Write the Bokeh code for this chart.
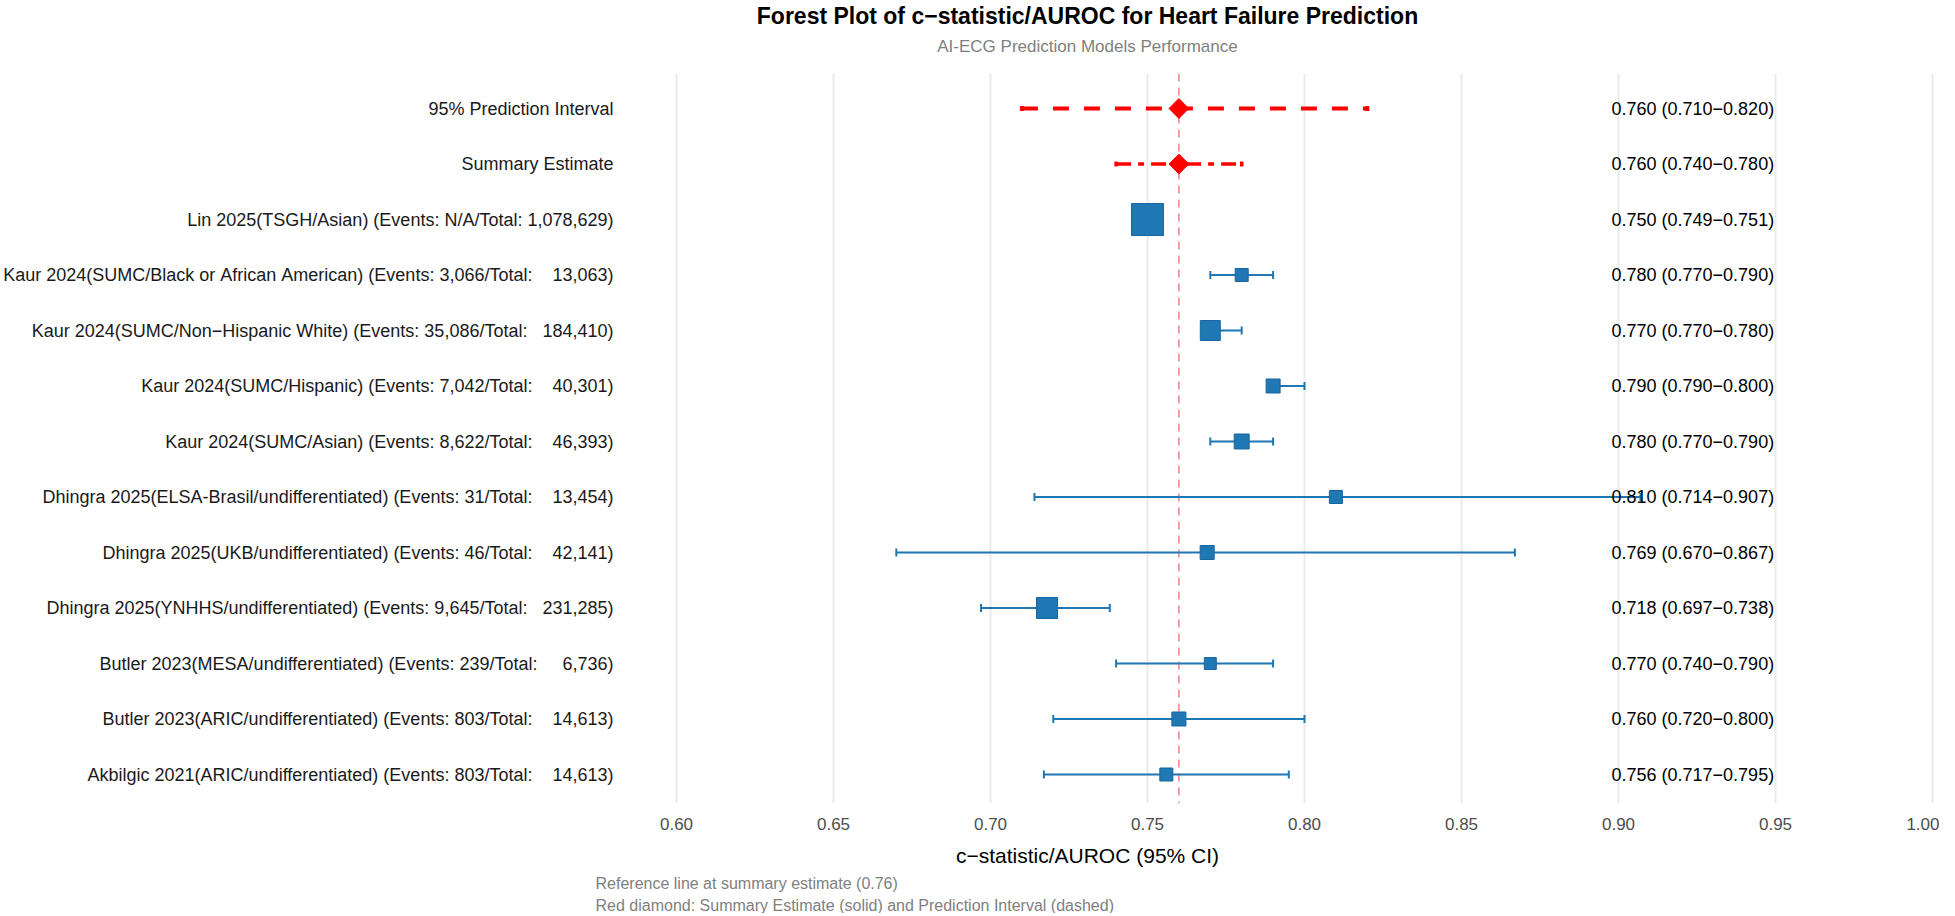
import numpy as np
from bokeh.plotting import figure
from bokeh.models import Range1d, FixedTicker, NumeralTickFormatter, Title, ColumnDataSource, Span
from bokeh.core.properties import value
from bokeh.embed import file_html
from bokeh.resources import INLINE

# ---------------- data ----------------
studies = [
    "Lin 2025(TSGH/Asian)",
    "Kaur 2024(SUMC/Black or African American)",
    "Kaur 2024(SUMC/Non\u2212Hispanic White)",
    "Kaur 2024(SUMC/Hispanic)",
    "Kaur 2024(SUMC/Asian)",
    "Dhingra 2025(ELSA-Brasil/undifferentiated)",
    "Dhingra 2025(UKB/undifferentiated)",
    "Dhingra 2025(YNHHS/undifferentiated)",
    "Butler 2023(MESA/undifferentiated)",
    "Butler 2023(ARIC/undifferentiated)",
    "Akbilgic 2021(ARIC/undifferentiated)",
]
events = ["N/A", "3,066", "35,086", "7,042", "8,622", "31", "46", "9,645", "239", "803", "803"]
totals = ["1,078,629", "13,063", "184,410", "40,301", "46,393", "13,454", "42,141", "231,285", "6,736", "14,613", "14,613"]
est = [0.750, 0.780, 0.770, 0.790, 0.780, 0.810, 0.769, 0.718, 0.770, 0.760, 0.756]
lo = [0.749, 0.770, 0.770, 0.790, 0.770, 0.714, 0.670, 0.697, 0.740, 0.720, 0.717]
hi = [0.751, 0.790, 0.780, 0.800, 0.790, 0.907, 0.867, 0.738, 0.790, 0.800, 0.795]
weights = [64.0, 10.6, 25.0, 12.3, 14.0, 10.6, 12.3, 27.6, 9.0, 12.3, 10.6]

summary = {"label": "Summary Estimate", "est": 0.760, "lo": 0.740, "hi": 0.780}
pred_int = {"label": "95% Prediction Interval", "est": 0.760, "lo": 0.710, "hi": 0.820}

x_ticks = [0.60, 0.65, 0.70, 0.75, 0.80, 0.85, 0.90, 0.95, 1.00]
ref_value = 0.76

title_text = "Forest Plot of c\u2212statistic/AUROC for Heart Failure Prediction"
subtitle_text = "AI-ECG Prediction Models Performance"
x_label = "c\u2212statistic/AUROC (95% CI)"
caption1 = "Reference line at summary estimate (0.76)"
caption2 = "Red diamond: Summary Estimate (solid) and Prediction Interval (dashed)"

# ---------------- layout constants ----------------
FONT = "Liberation Sans"
NB = "\u00a0"
FRAME_L, FRAME_R = 243, 1947      # page pixels
FRAME_T, FRAME_B = 81, 811
PX_PER_UNIT = 3140.0
X060 = 684.0
ROW0, ROW_STEP = 116.0, 55.5

x_start = 0.60 - (X060 - FRAME_L) / PX_PER_UNIT
x_end = x_start + (FRAME_R - FRAME_L) / PX_PER_UNIT
y_end = (FRAME_T - ROW0) / ROW_STEP
y_start = (FRAME_B - ROW0) / ROW_STEP

def x_of_px(px):
    return 0.60 + (px - X060) / PX_PER_UNIT

def y_of_px(py):
    return (py - ROW0) / ROW_STEP

BLUE = "#1F77B4"
RED = "#FF0000"

def fmt_ci(e, l, h):
    return f"{e:.3f} ({l:.3f}\u2212{h:.3f})"

labels = [f"{s} (Events: {ev}/Total: {tot.rjust(9)})".replace(" ", NB)
          for s, ev, tot in zip(studies, events, totals)]
rows_study = [i + 2 for i in range(len(studies))]

p = figure(frame_width=FRAME_R - FRAME_L, frame_height=FRAME_B - FRAME_T,
           x_range=Range1d(x_start, x_end), y_range=Range1d(y_start, y_end),
           output_backend="svg", toolbar_location=None, y_axis_location=None,
           min_border_left=FRAME_L - 8, min_border_right=0, min_border_top=FRAME_T - 8,
           min_border_bottom=0,
           outline_line_color=None, background_fill_color="white", border_fill_color="white")

p.ygrid.visible = False
p.xgrid.grid_line_color = "#EBEBEB"
p.xgrid.grid_line_width = 2

# reference line (under the glyphs)
p.add_layout(Span(location=ref_value, dimension="height", line_color="#F08080",
                  line_width=1.5, line_dash="8 6", level="underlay"))

# study CIs
src = ColumnDataSource(dict(y=rows_study, est=est, lo=lo, hi=hi,
                            size=[4.0 * np.sqrt(w) for w in weights]))
p.segment(x0="lo", x1="hi", y0="y", y1="y", source=src, line_color=BLUE, line_width=2)
p.scatter(x="lo", y="y", source=src, marker="dash", angle=np.pi / 2, size=8, line_color=BLUE, line_width=2)
p.scatter(x="hi", y="y", source=src, marker="dash", angle=np.pi / 2, size=8, line_color=BLUE, line_width=2)
p.scatter(x="est", y="y", source=src, marker="square", size="size",
          fill_color=BLUE, line_color="#1A66A0", line_width=1)

# prediction interval (row 0) and summary (row 1)
p.segment(x0=[pred_int["lo"]], x1=[pred_int["hi"]], y0=[0], y1=[0],
          line_color=RED, line_width=4, line_dash="16 15")
p.scatter(x=[pred_int["lo"], pred_int["hi"]], y=[0, 0], marker="dash", angle=np.pi / 2,
          size=5, line_color=RED, line_width=4)
p.segment(x0=[summary["lo"]], x1=[summary["hi"]], y0=[1], y1=[1],
          line_color=RED, line_width=3.5, line_dash="15 7 6 7")
p.scatter(x=[summary["lo"], summary["hi"]], y=[1, 1], marker="dash", angle=np.pi / 2,
          size=5, line_color=RED, line_width=3.5)
p.scatter(x=[pred_int["est"], summary["est"]], y=[0, 1], marker="square", angle=np.pi / 4,
          size=14, fill_color=RED, line_color=RED)

# left labels (drawn unclipped so they may extend left of the frame)
all_labels = [pred_int["label"], summary["label"]] + labels
all_rows = [0, 1] + rows_study
p.text(x=[x_of_px(621)] * len(all_labels), y=all_rows, text=all_labels,
       text_align="right", text_baseline="middle", text_font=value(FONT),
       text_font_size=value("18px"), text_color="#1A1A1A", level="annotation")

# right labels
ci_texts = [fmt_ci(pred_int["est"], pred_int["lo"], pred_int["hi"]),
            fmt_ci(summary["est"], summary["lo"], summary["hi"])] + \
           [fmt_ci(e, l, h) for e, l, h in zip(est, lo, hi)]
p.text(x=[x_of_px(1619)] * len(ci_texts), y=all_rows, text=ci_texts,
       text_align="left", text_baseline="middle", text_font=value(FONT),
       text_font_size=value("18px"), text_color="#000000", level="annotation")

# title and subtitle (centred over the frame)
x_mid = (x_start + x_end) / 2
p.text(x=[x_mid], y=[y_of_px(23)], text=[title_text], text_align="center",
       text_baseline="middle", text_font=value(FONT), text_font_size=value("23px"),
       text_font_style="bold", text_color="#000000", level="annotation")
p.text(x=[x_mid], y=[y_of_px(54)], text=[subtitle_text], text_align="center",
       text_baseline="middle", text_font=value(FONT), text_font_size=value("17px"),
       text_color="#7F7F7F", level="annotation")

# x axis
ax = p.xaxis[0]
ax.ticker = FixedTicker(ticks=x_ticks)
ax.formatter = NumeralTickFormatter(format="0.00")
ax.axis_line_color = None
ax.major_tick_line_color = None
ax.minor_tick_line_color = None
ax.major_label_text_font = FONT
ax.major_label_text_font_size = "17px"
ax.major_label_text_color = "#4D4D4D"
ax.major_label_standoff = 8
ax.axis_label = x_label
ax.axis_label_text_font = FONT
ax.axis_label_text_font_size = "21px"
ax.axis_label_text_font_style = "normal"
ax.axis_label_text_color = "#000000"
ax.axis_label_standoff = 11

for t, so in [(caption1, 6), (caption2, 0)]:
    p.add_layout(Title(text=t, align="left", offset=603 - FRAME_L, text_font=FONT,
                       text_font_size="16px", text_font_style="normal",
                       text_color="#808080", standoff=so), "below")

open("out.html", "w").write(file_html(p, INLINE))
